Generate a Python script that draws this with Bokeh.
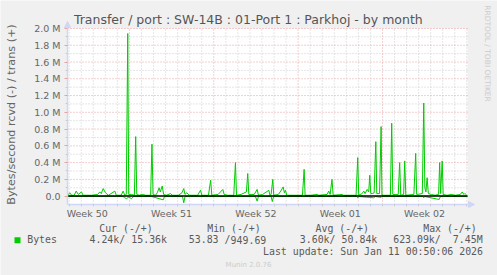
import numpy as np
from bokeh.plotting import figure
from bokeh.models import (FixedTicker, Label, Arrow, NormalHead, BoxAnnotation,
                          Range1d, CustomJSTickFormatter, LinearAxis)
from bokeh.embed import file_html
from bokeh.resources import INLINE

# ---------------- data (days since graph start, values in MB/s) ----------------
week_labels = ["Week 50", "Week 51", "Week 52", "Week 01", "Week 02"]
week_label_days = [1.64, 8.64, 15.64, 22.64, 29.64]
week_start_days = [5.14, 12.14, 19.14, 26.14]

y_major = [0.0, 0.2, 0.4, 0.6, 0.8, 1.0, 1.2, 1.4, 1.6, 1.8, 2.0]
y_minor = [0.1, 0.3, 0.5, 0.7, 0.9, 1.1, 1.3, 1.5, 1.7, 1.9]

trans_days = [0.0, 0.19, 0.35, 0.55, 0.72, 0.9, 1.16, 1.3, 2.0, 2.5, 2.68, 2.8, 2.96, 3.15,
              3.4, 3.93, 4.05, 4.45, 4.62, 4.75, 4.88, 5.0, 5.08, 5.3, 5.55, 5.66, 5.75,
              5.95, 6.2, 6.5, 6.9, 7.01, 7.1, 7.3, 7.45, 7.61, 7.7, 7.86, 7.98, 8.2, 8.55,
              8.7, 9.2, 9.5, 9.65, 9.75, 9.9, 10.1, 10.8, 11.04, 11.15, 11.7, 11.88, 11.98,
              12.5, 12.89, 13.0, 13.3, 13.8, 13.94, 14.03, 14.4, 14.85, 14.96, 15.05, 15.5,
              15.74, 15.85, 16.2, 16.71, 16.8, 16.9, 17.04, 17.12, 17.5, 17.7, 17.9, 18.0,
              18.09, 18.2, 19.5, 19.64, 19.72, 20.2, 20.72, 20.85, 21.55, 21.68, 21.8, 21.95,
              22.05, 22.8, 22.9, 23.95, 24.09, 24.17, 24.45, 24.59, 24.7, 24.87, 25.0, 25.09,
              25.17, 25.3, 25.45, 25.59, 25.67, 25.9, 26.03, 26.1, 26.8, 26.91, 27.0, 27.45,
              27.57, 27.66, 27.9, 27.99, 28.08, 28.75, 28.9, 28.98, 29.45, 29.57, 29.66,
              29.75, 29.85, 29.95, 30.2, 30.5, 30.8, 30.89, 30.97, 31.1, 31.18, 31.5, 31.84,
              32.2, 32.6, 32.76, 32.9, 32.97, 33.1]
trans_vals = [0.01, 0.04, 0.01, 0.01, 0.06, 0.02, 0.05, 0.01, 0.01, 0.02, 0.05, 0.03, 0.09, 0.04,
              0.01, 0.06, 0.01, 0.01, 0.06, 0.01, 0.02, 1.94, 0.02, 0.02, 0.01, 0.71, 0.02,
              0.01, 0.02, 0.01, 0.01, 0.62, 0.02, 0.01, 0.04, 0.10, 0.05, 0.12, 0.02, 0.01, 0.03,
              0.01, 0.01, 0.04, 0.09, 0.02, 0.04, 0.01, 0.01, 0.07, 0.01, 0.01, 0.19, 0.01,
              0.02, 0.08, 0.02, 0.01, 0.01, 0.40, 0.01, 0.02, 0.05, 0.27, 0.02, 0.02,
              0.08, 0.01, 0.02, 0.07, 0.01, 0.02, 0.20, 0.01, 0.02, 0.06, 0.11, 0.04,
              0.07, 0.01, 0.01, 0.32, 0.01, 0.01, 0.02, 0.01, 0.02, 0.06, 0.02, 0.20,
              0.01, 0.02, 0.01, 0.01, 0.46, 0.01, 0.03, 0.06, 0.03, 0.08, 0.05, 0.25,
              0.03, 0.03, 0.04, 0.65, 0.03, 0.03, 0.83, 0.01, 0.01, 0.87, 0.02, 0.02,
              0.40, 0.01, 0.02, 0.42, 0.01, 0.02, 0.51, 0.02, 0.03, 1.11, 0.10,
              0.05, 0.22, 0.03, 0.02, 0.01, 0.02, 0.40, 0.03, 0.42, 0.02, 0.01, 0.02,
              0.01, 0.02, 0.05, 0.02, 0.03, 0.02]

rcvd_days = [0.0, 4.6, 4.75, 4.9, 5.1, 5.3, 5.5, 7.0, 7.95, 8.05, 9.55, 9.65, 9.75, 15.6,
             15.74, 15.85, 16.9, 17.0, 17.1, 24.0, 24.09, 24.2, 25.4, 25.55, 26.03, 26.1,
             29.5, 29.57, 29.65, 30.85, 30.95, 33.2]
rcvd_vals = [-0.003, -0.003, -0.02, -0.03, -0.01, -0.03, -0.005, -0.005, -0.045, -0.005,
             -0.005, -0.08, -0.005, -0.005, -0.06, -0.005, -0.005, -0.065, -0.005, -0.005,
             -0.02, -0.005, -0.02, -0.005, -0.015, -0.005, -0.005, -0.02, -0.005, -0.04,
             -0.005, -0.005]

legend_name = "Bytes"
stat_headers = ["Cur (-/+)", "Min (-/+)", "Avg (-/+)", "Max (-/+)"]
stat_values = ["4.24k/ 15.36k", "53.83 /949.69", "3.60k/ 50.84k", "623.09k/  7.45M"]
title_text = "Transfer / port : SW-14B : 01-Port 1 : Parkhoj - by month"
y_label = "Bytes/second rcvd (-) / trans (+)"
last_update = "Last update: Sun Jan 11 00:50:06 2026"
munin_ver = "Munin 2.0.76"
watermark = "RRDTOOL / TOBI OETIKER"

# ---------------- layout: frame covers the whole canvas ----------------
W, H = 497, 275
L, R, T, B = 67, 467, 28, 204          # pixel box of the graph area
X0, X1 = 0.0, 33.2
Y0, Y1 = -0.1, 2.0
KX = (R - L) / (X1 - X0)
KY = (B - T) / (Y1 - Y0)

def dx(px):
    return X0 + (px - L) / KX

def dy(py):
    return Y0 + (B - py) / KY

GREEN = "#00CC00"
FONT_C = "#666666"
AXIS_C = "#CFD6F8"
MGRID = "#E8A0A0"
GRID = "#CCCCCC"
BG = "#F0F0F0"

p = figure(width=W, height=H, output_backend="svg", toolbar_location=None, title=None,
           x_range=Range1d(dx(0), dx(W)), y_range=Range1d(dy(H), dy(0)),
           x_axis_location=None, y_axis_location=None,
           min_border=0, min_border_left=0, min_border_right=0,
           min_border_top=0, min_border_bottom=0)
p.background_fill_color = BG
p.border_fill_color = BG
p.outline_line_color = None
p.xgrid.visible = False
p.ygrid.visible = False

# white graph canvas
p.add_layout(BoxAnnotation(left=X0, right=X1, bottom=Y0, top=Y1, fill_color="white",
                           fill_alpha=1.0, line_color=None, level="underlay"))

# grid lines (dotted)
day_all = np.arange(0.14, X1, 1.0).round(2).tolist()
day_minor = [d for d in day_all if all(abs(d - w) > 1e-6 for w in week_start_days)]
p.segment(x0=day_minor, y0=Y0, x1=day_minor, y1=Y1, line_color=GRID, line_dash="1 2",
          line_width=1)
p.segment(x0=X0, y0=y_minor, x1=X1, y1=y_minor, line_color=GRID, line_dash="1 2",
          line_width=1)
p.segment(x0=week_start_days, y0=Y0, x1=week_start_days, y1=Y1, line_color=MGRID,
          line_dash="1 2", line_width=1)
p.segment(x0=X0, y0=y_major, x1=X1, y1=y_major, line_color=MGRID, line_dash="1 2",
          line_width=1)

# axes fixed inside the canvas
xa = LinearAxis(fixed_location=Y0, bounds=(X0, X1))
xa.ticker = FixedTicker(ticks=week_label_days, minor_ticks=day_all)
xa.major_label_overrides = {d: s for d, s in zip(week_label_days, week_labels)}
xa.major_tick_line_color = None
xa.major_tick_out = 0
xa.major_tick_in = 0
xa.minor_tick_line_color = GRID
xa.minor_tick_out = 2
xa.minor_tick_in = 0
xa.axis_line_color = AXIS_C
xa.axis_line_width = 1.5
xa.major_label_standoff = 1
xa.major_label_text_font = "DejaVu Sans"
xa.major_label_text_font_size = "9.5px"
xa.major_label_text_color = FONT_C
p.add_layout(xa, "below")

ya = LinearAxis(fixed_location=X0, bounds=(Y0, Y1))
ya.ticker = FixedTicker(ticks=y_major, minor_ticks=y_minor)
ya.formatter = CustomJSTickFormatter(
    code="return Math.abs(tick) < 1e-9 ? '0.0' : tick.toFixed(1) + ' M';")
ya.major_tick_line_color = MGRID
ya.major_tick_out = 3
ya.major_tick_in = 0
ya.minor_tick_line_color = GRID
ya.minor_tick_out = 2
ya.minor_tick_in = 0
ya.axis_line_color = AXIS_C
ya.axis_line_width = 1.5
ya.major_label_standoff = 4
ya.major_label_text_font = "DejaVu Sans"
ya.major_label_text_font_size = "9.5px"
ya.major_label_text_color = FONT_C
p.add_layout(ya, "left")

# data lines
p.line(trans_days, trans_vals, line_color=GREEN, line_width=1)
p.line(rcvd_days, rcvd_vals, line_color=GREEN, line_width=1)
p.segment(x0=X0, y0=0.0, x1=X1, y1=0.0, line_color="black", line_width=1.5)

# axis arrows
p.add_layout(Arrow(x_start=X0, y_start=Y1, x_end=X0, y_end=dy(21), line_color=AXIS_C,
                   line_width=1.5,
                   end=NormalHead(size=6, fill_color=AXIS_C, line_color=AXIS_C)))
p.add_layout(Arrow(x_start=X1, y_start=Y0, x_end=dx(474), y_end=Y0, line_color=AXIS_C,
                   line_width=1.5,
                   end=NormalHead(size=6, fill_color=AXIS_C, line_color=AXIS_C)))

def lab(px, py, text, size, color=FONT_C, font="DejaVu Sans", align="left", angle=0.0):
    p.add_layout(Label(x=dx(px), y=dy(py), text=text, text_font=font,
                       text_font_size=size, text_color=color, text_align=align,
                       text_baseline="middle", angle=angle))

lab(247.8, 19, title_text, "12.5px", color="#555555", align="center")
lab(10.5, 114, y_label, "11.2px", align="center", angle=np.pi / 2)
lab(487.3, 53, watermark, "7.5px", color="#CCCCCC", align="center", angle=-np.pi / 2)

MONO = "DejaVu Sans Mono"
LEG_C = "#5A5A5A"
CW = 5.96  # monospace character advance in px
for px, t in zip([98.7, 206.7, 315.0, 422.7], stat_headers):
    lab(px, 227.7, t, "9.9px", color=LEG_C, font=MONO)
lab(26.7, 239.3, legend_name, "9.9px", color=LEG_C, font=MONO)
for px, t in zip([89.0, 188.3, 299.3, 392.7], stat_values):
    i = t.index("/") + 1
    lab(px, 239.3, t[:i], "9.9px", color=LEG_C, font=MONO)
    lab(px + len(t) * CW, 239.3, t[i:].strip(), "9.9px", color=LEG_C, font=MONO,
        align="right")
lab(482.5, 251, last_update, "9.9px", color=LEG_C, font=MONO, align="right")
lab(248, 264, munin_ver, "7px", color="#CCCCCC", align="center")

p.add_layout(BoxAnnotation(left=dx(14), right=dx(20), top=dy(236.7), bottom=dy(242.7),
                           fill_color=GREEN, fill_alpha=1.0, line_color=None))

open("out.html", "w").write(file_html(p, INLINE))
